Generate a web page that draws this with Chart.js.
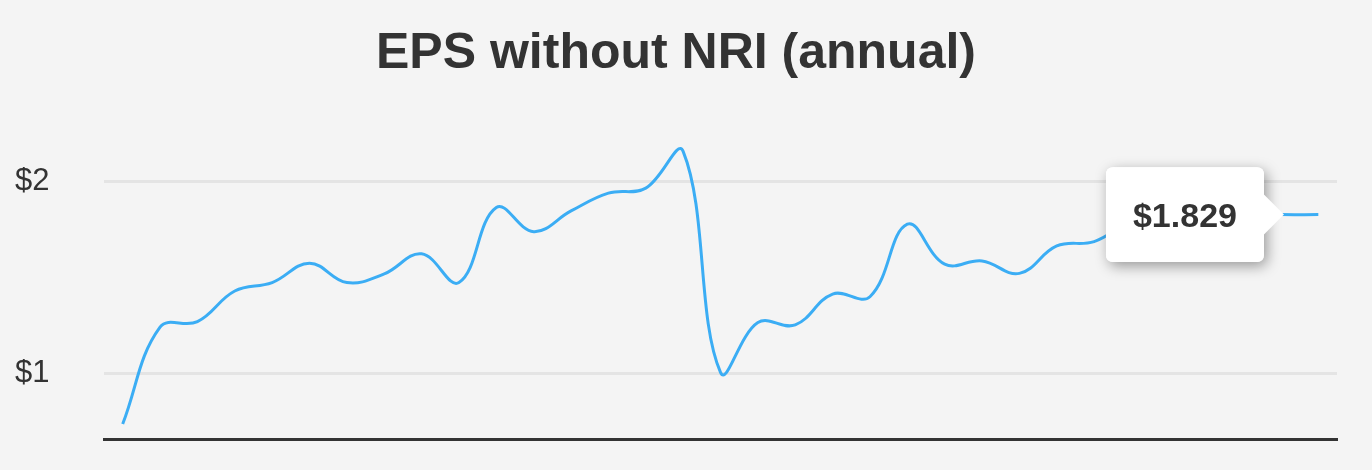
<!DOCTYPE html>
<html>
<head>
<meta charset="utf-8">
<script src="https://cdn.jsdelivr.net/npm/chart.js@4"></script>
<style>
  html, body { margin: 0; padding: 0; background: #f4f4f4; }
  #wrap { width: 1372px; height: 470px; }
</style>
</head>
<body>
<div id="wrap"><canvas id="c" width="1372" height="470"></canvas></div>
<script>
// ---- data ----
const categories = ["1992","1993","1994","1995","1996","1997","1998","1999","2000","2001","2002",
  "2003","2004","2005","2006","2007","2008","2009","2010","2011","2012","2013","2014","2015",
  "2016","2017","2018","2019","2020","2021","2022","2023","2024"];
const epsWithoutNRI = [0.735, 1.241, 1.270, 1.430, 1.474, 1.575, 1.474, 1.519, 1.624, 1.474, 1.866,
  1.740, 1.848, 1.941, 1.967, 2.159, 1.005, 1.265, 1.253, 1.414, 1.400, 1.779, 1.570, 1.587,
  1.522, 1.665, 1.688, 1.790, 1.810, 1.800, 1.835, 1.829, 1.829];
const yTicks = [1, 2];
const activeIndex = 31;

const FONT = "'Liberation Sans', Arial, Helvetica, sans-serif";

const bgPlugin = {
  id: 'bg',
  beforeDraw(chart) {
    const ctx = chart.ctx;
    ctx.save();
    ctx.fillStyle = '#f4f4f4';
    ctx.fillRect(0, 0, chart.width, chart.height);
    ctx.restore();
  }
};

const shadowPlugin = {
  id: 'ttShadow',
  beforeTooltipDraw(chart, args) {
    const tt = args.tooltip;
    if (!tt || tt.opacity === 0) return;
    const ctx = chart.ctx;
    const r = 7;
    ctx.save();
    ctx.shadowColor = 'rgba(0,0,0,0.38)';
    ctx.shadowBlur = 14;
    ctx.shadowOffsetX = 3;
    ctx.shadowOffsetY = 4;
    ctx.fillStyle = '#ffffff';
    ctx.beginPath();
    ctx.roundRect(tt.x, tt.y, tt.width, tt.height, r);
    ctx.fill();
    ctx.restore();
  }
};

const chart = new Chart(document.getElementById('c'), {
  type: 'line',
  data: {
    labels: categories,
    datasets: [{
      data: epsWithoutNRI,
      borderColor: '#3badf4',
      borderWidth: 3,
      pointRadius: 0,
      pointHoverRadius: 0,
      tension: 0.4,
      fill: false
    }]
  },
  options: {
    responsive: false,
    animation: false,
    events: [],
    layout: { padding: { left: 15, right: 35, top: 0, bottom: 23 } },
    plugins: {
      legend: { display: false },
      title: {
        display: true,
        text: 'EPS without NRI (annual)',
        color: '#333333',
        font: { family: FONT, size: 50, weight: 'bold' },
        padding: { top: 24, bottom: 36 }
      },
      tooltip: {
        enabled: true,
        backgroundColor: '#ffffff',
        bodyColor: '#333333',
        bodyFont: { family: FONT, size: 34, weight: 'bold' },
        padding: { top: 30, bottom: 24, left: 27, right: 27 },
        displayColors: false,
        cornerRadius: 7,
        caretSize: 20,
        caretPadding: -3,
        xAlign: 'right',
        yAlign: 'center',
        callbacks: {
          title: () => '',
          label: (c) => '$' + c.parsed.y.toFixed(3)
        }
      }
    },
    scales: {
      x: {
        type: 'category',
        offset: true,
        grid: { display: false },
        border: { display: true, color: '#333333', width: 3 },
        ticks: { display: false }
      },
      y: {
        min: 0.657,
        max: 2.323,
        afterBuildTicks: (axis) => { axis.ticks = yTicks.map(v => ({ value: v })); },
        afterFit: (axis) => { axis.width = 89; },
        grid: { color: '#e4e4e4', lineWidth: 3, drawTicks: false },
        border: { display: false },
        ticks: {
          crossAlign: 'far',
          color: '#333333',
          font: { family: FONT, size: 31 },
          callback: (v) => '$' + v
        }
      }
    }
  },
  plugins: [bgPlugin, shadowPlugin]
});

chart.tooltip.setActiveElements([{ datasetIndex: 0, index: activeIndex }], { x: 0, y: 0 });
chart.update();
</script>
</body>
</html>
